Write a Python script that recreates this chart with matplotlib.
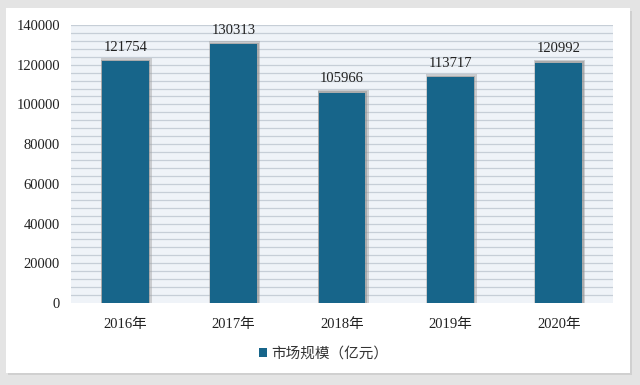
import matplotlib
matplotlib.use('AGG')
import matplotlib.pyplot as plt
from matplotlib.patches import Rectangle
import numpy as np

years = ["2016年", "2017年", "2018年", "2019年", "2020年"]
market = [121754, 130313, 105966, 113717, 120992]
seriesName = "市场规模（亿元）"

barColor = '#17658a'
fontList = ['Liberation Serif', 'Noto Sans CJK SC']


def main():
    fig = plt.figure(figsize=(6.4, 3.85), dpi=100)
    fig.patch.set_facecolor('#e4e4e4')

    # white card with a soft shadow
    fig.patches.append(Rectangle((8 / 640, 10 / 385), 624 / 640, 364 / 385, transform=fig.transFigure,
                                 facecolor='#d0d0d0', edgecolor='none', zorder=0))
    fig.patches.append(Rectangle((6 / 640, 12 / 385), 624 / 640, 365 / 385, transform=fig.transFigure,
                                 facecolor='white', edgecolor='none', zorder=0))

    ax = fig.add_axes([71 / 640, 1 - 303 / 385, 542 / 640, 278 / 385])
    ax.set_facecolor('#eff3f8')
    ax.set_zorder(2)

    x = np.arange(len(years))
    ax.set_xlim(-0.5, len(years) - 0.5)
    ax.set_ylim(0, 140000)

    for g in range(4000, 140001, 4000):
        ax.axhline(g, color='#c6ced7', linewidth=0.9, zorder=1)

    # soft glow behind each bar
    ax.bar(x + 0.01, [v + 1500 for v in market], width=0.47, color='#a0a0a0', alpha=0.45, zorder=2)
    ax.bar(x + 0.005, [v + 800 for v in market], width=0.45, color='#8a8a8a', alpha=0.5, zorder=2)
    bars = ax.bar(x, market, width=0.43, color=barColor, zorder=3, label=seriesName)

    for rect, val in zip(bars, market):
        ax.text(rect.get_x() + rect.get_width() / 2, val + 3800, str(val), ha='center', va='bottom',
                fontsize=10.5, family=fontList, color='#222222')

    ax.set_yticks(range(0, 140001, 20000))
    ax.set_yticklabels([str(v) for v in range(0, 140001, 20000)], family=fontList, fontsize=10.5, color='#222222')
    ax.set_xticks(x)
    ax.set_xticklabels(years, family=fontList, fontsize=10.5, color='#222222')
    ax.tick_params(axis='both', length=0, pad=8)
    ax.tick_params(axis='x', pad=11)
    for spine in ax.spines.values():
        spine.set_visible(False)

    leg = fig.legend(handles=[bars], labels=[seriesName], loc='center', bbox_to_anchor=(0.505, 1 - 354 / 385),
                     frameon=False, handlelength=0.55, handleheight=0.55, handletextpad=0.3,
                     prop={'family': ['Noto Sans CJK SC', 'DejaVu Sans'], 'size': 10.5})
    for t in leg.get_texts():
        t.set_color('#333333')

    plt.savefig("out.png", dpi=100, facecolor=fig.get_facecolor())


if __name__ == "__main__":
    main()
